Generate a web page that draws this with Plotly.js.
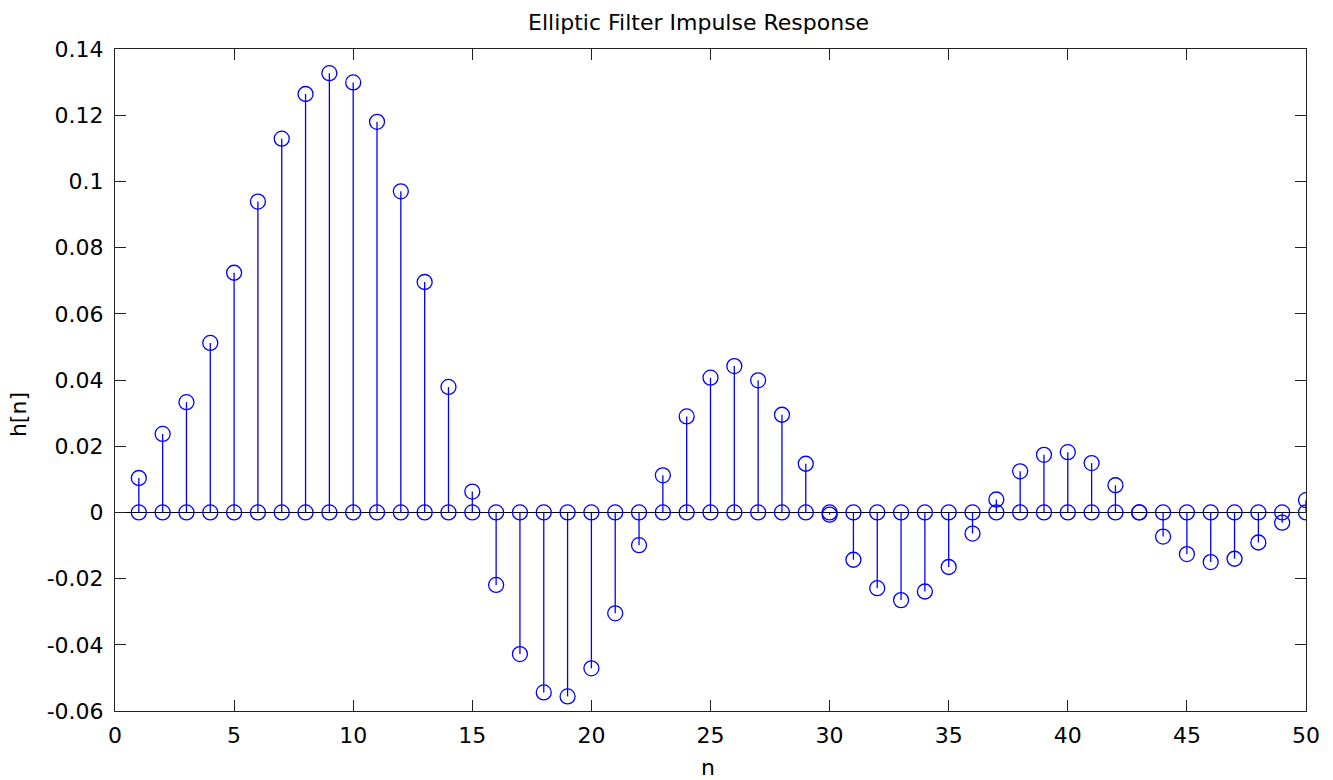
<!DOCTYPE html>
<html>
<head>
<meta charset="utf-8">
<script src="https://cdn.plot.ly/plotly-3.0.1.min.js"></script>
<style>
  html, body { margin: 0; padding: 0; background: #fff; }
  #chart { width: 1333px; height: 780px; }
</style>
</head>
<body>
<div id="chart"></div>
<script>
// Sample index n and impulse response h[n] of the elliptic filter
const n = [1, 2, 3, 4, 5, 6, 7, 8, 9, 10,
           11, 12, 13, 14, 15, 16, 17, 18, 19, 20,
           21, 22, 23, 24, 25, 26, 27, 28, 29, 30,
           31, 32, 33, 34, 35, 36, 37, 38, 39, 40,
           41, 42, 43, 44, 45, 46, 47, 48, 49, 50];
const h = [0.0104, 0.0237, 0.0333, 0.0512, 0.0724, 0.0939, 0.1129, 0.1264, 0.1327, 0.1299,
           0.1180, 0.0970, 0.0696, 0.0379, 0.0063, -0.0219, -0.0428, -0.0544, -0.0556, -0.0471,
           -0.0305, -0.0099, 0.0112, 0.0290, 0.0407, 0.0442, 0.0399, 0.0295, 0.0147, -0.0007,
           -0.0143, -0.0229, -0.0265, -0.0239, -0.0165, -0.0064, 0.0039, 0.0124, 0.0174, 0.0182,
           0.0149, 0.0082, 0.0000, -0.0073, -0.0126, -0.0150, -0.0140, -0.0091, -0.0031, 0.0037];

const xTicks = [0, 5, 10, 15, 20, 25, 30, 35, 40, 45, 50];
const yTicks = [-0.06, -0.04, -0.02, 0, 0.02, 0.04, 0.06, 0.08, 0.1, 0.12, 0.14];
const yTickText = ['-0.06', '-0.04', '-0.02', '0', '0.02', '0.04', '0.06', '0.08', '0.1', '0.12', '0.14'];

const blue = 'rgb(0,0,255)';
const font = 'DejaVu Sans, Verdana, sans-serif';

// Vertical stems from the baseline up/down to each sample
const stemX = [], stemY = [];
n.forEach((k, i) => { stemX.push(k, k, null); stemY.push(0, h[i], null); });
const baseline = n.map(() => 0);

const traces = [
  { x: stemX, y: stemY, type: 'scatter', mode: 'lines',
    line: { color: blue, width: 1.3 }, hoverinfo: 'skip', showlegend: false },
  { x: n, y: baseline, type: 'scatter', mode: 'markers',
    marker: { symbol: 'circle-open', size: 15, color: blue, line: { width: 1.3 } },
    showlegend: false },
  { x: n, y: h, type: 'scatter', mode: 'markers',
    marker: { symbol: 'circle-open', size: 15, color: blue, line: { width: 1.3 } },
    showlegend: false }
];

const layout = {
  width: 1333, height: 780,
  margin: { l: 115, r: 27, t: 49, b: 69 },
  paper_bgcolor: '#fff', plot_bgcolor: '#fff',
  font: { family: font, size: 22, color: '#000' },
  showlegend: false,
  title: { text: 'Elliptic Filter Impulse Response', font: { family: font, size: 22, color: '#000' },
           x: 0.49, xref: 'paper', xanchor: 'center', y: 1 - 22 / 780, yref: 'container', yanchor: 'middle' },
  xaxis: {
    range: [0, 50], tickvals: xTicks, ticktext: xTicks.map(String),
    ticks: 'inside', ticklen: 11, tickcolor: '#222', tickwidth: 1,
    showline: true, linecolor: '#222', linewidth: 1, mirror: 'ticks',
    showgrid: false, zeroline: false, ticklabelstandoff: 5,
    tickfont: { family: font, size: 22, color: '#000' }
  },
  yaxis: {
    range: [-0.06, 0.14], tickvals: yTicks, ticktext: yTickText,
    ticks: 'inside', ticklen: 11, tickcolor: '#222', tickwidth: 1,
    showline: true, linecolor: '#222', linewidth: 1, mirror: 'ticks',
    showgrid: false, zeroline: true, zerolinecolor: '#000', zerolinewidth: 1.3,
    ticklabelstandoff: 6,
    tickfont: { family: font, size: 22, color: '#000' }
  },
  annotations: [
    { text: 'n', xref: 'paper', yref: 'paper', x: 0.498, y: 0, yshift: -56,
      xanchor: 'center', yanchor: 'middle', showarrow: false,
      font: { family: font, size: 22, color: '#000' } },
    { text: 'h[n]', xref: 'paper', yref: 'paper', x: 0, xshift: -97, y: 0.447,
      xanchor: 'center', yanchor: 'middle', textangle: -90, showarrow: false,
      font: { family: font, size: 22, color: '#000' } }
  ]
};

Plotly.newPlot('chart', traces, layout, { displayModeBar: false, staticPlot: true });
</script>
</body>
</html>
